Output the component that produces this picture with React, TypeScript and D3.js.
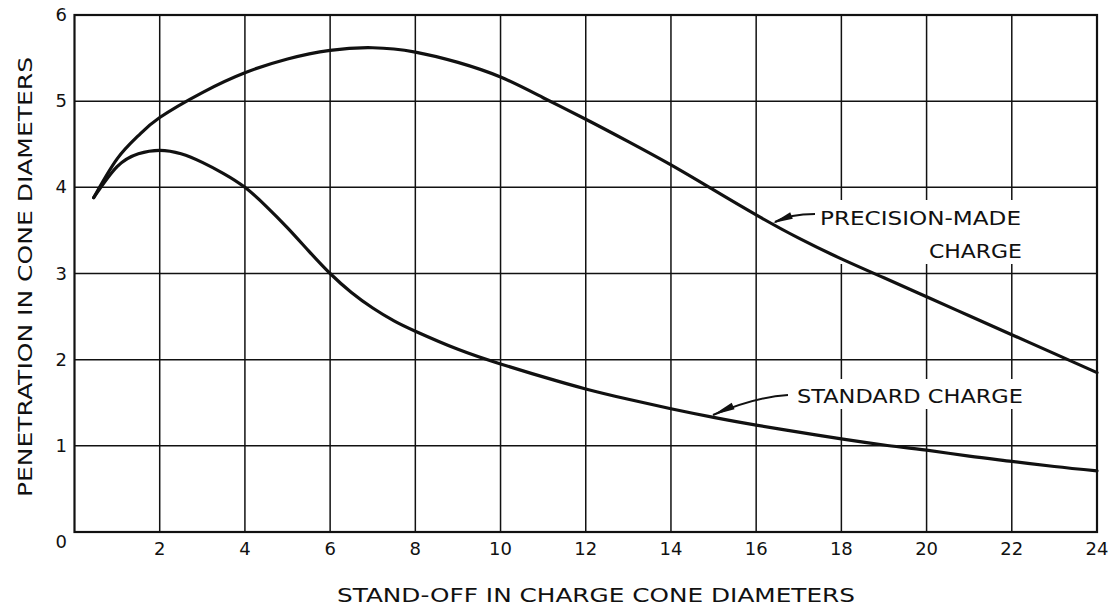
import React from "react";
import * as d3 from "d3";

const W = 1115;
const H = 609;

const xTicks = [2, 4, 6, 8, 10, 12, 14, 16, 18, 20, 22, 24];
const yTicks = [0, 1, 2, 3, 4, 5, 6];

const precisionX = [0.45, 1, 1.5, 2, 3, 4, 5, 6, 7, 8, 9, 10, 11, 12, 13, 14, 15, 16, 17, 18, 19, 20, 21, 22, 23, 24];
const precisionY = [3.88, 4.33, 4.6, 4.81, 5.1, 5.33, 5.49, 5.59, 5.62, 5.57, 5.45, 5.28, 5.04, 4.79, 4.53, 4.26, 3.97, 3.68, 3.41, 3.17, 2.95, 2.73, 2.51, 2.29, 2.07, 1.85];

const standardX = [0.45, 1, 1.5, 2, 2.5, 3, 3.5, 4, 4.5, 5, 5.5, 6, 6.5, 7, 7.5, 8, 9, 10, 11, 12, 13, 14, 15, 16, 17, 18, 19, 20, 21, 22, 23, 24];
const standardY = [3.88, 4.24, 4.39, 4.43, 4.39, 4.29, 4.16, 4.0, 3.78, 3.53, 3.26, 3.0, 2.78, 2.6, 2.45, 2.33, 2.12, 1.95, 1.8, 1.66, 1.54, 1.43, 1.33, 1.24, 1.16, 1.08, 1.01, 0.95, 0.88, 0.82, 0.76, 0.71];

const xTitle = "STAND-OFF IN CHARGE CONE DIAMETERS";
const yTitle = "PENETRATION IN CONE DIAMETERS";
const precisionLabel = ["PRECISION-MADE", "CHARGE"];
const standardLabel = "STANDARD CHARGE";

const FONT = "'DejaVu Sans', 'Liberation Sans', sans-serif";
const INK = "#111";

export default function App() {
  const x = d3.scaleLinear().domain([0, 24]).range([74.5, 1097]);
  const y = d3.scaleLinear().domain([0, 6]).range([532, 15]);

  const line = d3
    .line<[number, number]>()
    .x((d) => x(d[0]))
    .y((d) => y(d[1]))
    .curve(d3.curveNatural);

  const precision: [number, number][] = precisionX.map((v, i) => [v, precisionY[i]]);
  const standard: [number, number][] = standardX.map((v, i) => [v, standardY[i]]);

  const arrow = (x1: number, y1: number, cx: number, cy: number, x2: number, y2: number) => {
    const p = d3.path();
    p.moveTo(x1, y1);
    p.quadraticCurveTo(cx, cy, x2, y2);
    return p.toString();
  };

  const head = (tx: number, ty: number, fx: number, fy: number, len: number, wid: number) => {
    const ang = Math.atan2(ty - fy, tx - fx);
    const bx = tx - len * Math.cos(ang);
    const by = ty - len * Math.sin(ang);
    const nx = -Math.sin(ang) * wid;
    const ny = Math.cos(ang) * wid;
    return `M${tx},${ty}L${bx + nx},${by + ny}L${bx - nx},${by - ny}Z`;
  };

  return (
    <svg
      width={W}
      height={H}
      style={{ position: "absolute", left: 0, top: 0, background: "#fff" }}
      fontFamily={FONT}
    >
      <rect x={0} y={0} width={W} height={H} fill="#fff" />
      {/* grid */}
      {xTicks.slice(0, -1).map((t) => (
        <line key={"gx" + t} x1={x(t)} x2={x(t)} y1={y(0)} y2={y(6)} stroke={INK} strokeWidth={1.5} />
      ))}
      {yTicks.slice(1, -1).map((t) => (
        <line key={"gy" + t} x1={x(0)} x2={x(24)} y1={y(t)} y2={y(t)} stroke={INK} strokeWidth={1.5} />
      ))}
      {/* label backgrounds */}
      <rect x={812} y={200} width={216} height={64} fill="#fff" />
      <rect x={790} y={379} width={240} height={30} fill="#fff" />
      {/* frame */}
      <rect x={x(0)} y={y(6)} width={x(24) - x(0)} height={y(0) - y(6)} fill="none" stroke={INK} strokeWidth={2.2} />
      {/* curves */}
      <path d={line(precision) || ""} fill="none" stroke={INK} strokeWidth={3.2} strokeLinejoin="round" strokeLinecap="round" />
      <path d={line(standard) || ""} fill="none" stroke={INK} strokeWidth={3.2} strokeLinejoin="round" strokeLinecap="round" />
      {/* leader arrows */}
      <path d={arrow(815, 214, 790, 214, 775, 222)} fill="none" stroke={INK} strokeWidth={2} />
      <path d={head(773, 223, 795, 214, 20, 3.5)} fill={INK} />
      <path d={arrow(788, 395, 755, 397, 713, 415)} fill="none" stroke={INK} strokeWidth={2} />
      <path d={head(713, 415, 740, 403, 22, 3.5)} fill={INK} />
      {/* labels */}
      <text x={820} y={225} fontSize={19} fill={INK} textLength={201} lengthAdjust="spacingAndGlyphs">{precisionLabel[0]}</text>
      <text x={929} y={258} fontSize={19} fill={INK} textLength={93} lengthAdjust="spacingAndGlyphs">{precisionLabel[1]}</text>
      <text x={797} y={403} fontSize={19} fill={INK} textLength={226} lengthAdjust="spacingAndGlyphs">{standardLabel}</text>
      {/* tick labels */}
      {xTicks.map((t) => (
        <text key={"tx" + t} x={x(t)} y={555} fontSize={18} textAnchor="middle" fill={INK}>{t}</text>
      ))}
      {yTicks.map((t) => (
        <text key={"ty" + t} x={67} y={t === 0 ? y(t) + 16 : y(t) + 6} fontSize={18} textAnchor="end" fill={INK}>{t}</text>
      ))}
      {/* axis titles */}
      <text x={337} y={602} fontSize={19} fill={INK} textLength={518} lengthAdjust="spacingAndGlyphs">{xTitle}</text>
      <text transform="translate(32,497) rotate(-90)" x={0} y={0} fontSize={19} fill={INK} textLength={440} lengthAdjust="spacingAndGlyphs">{yTitle}</text>
    </svg>
  );
}
